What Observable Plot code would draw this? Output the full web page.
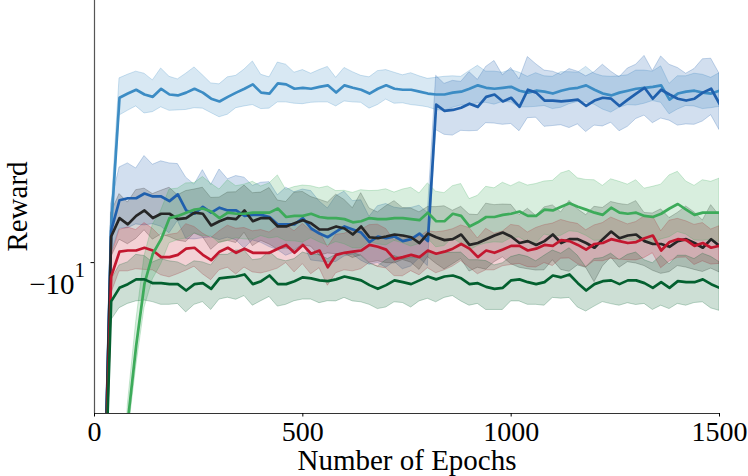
<!DOCTYPE html>
<html>
<head>
<meta charset="utf-8">
<script src="https://cdn.jsdelivr.net/npm/d3@7"></script>
<script src="https://cdn.jsdelivr.net/npm/@observablehq/plot@0.6"></script>
<style>
  body { margin: 0; background: #fff; }
  #chart svg { display: block; }
</style>
</head>
<body>
<div id="chart"></div>
<script>
// ---------- data ----------
const epochs = [0,20,40,60,80,100,120,140,160,180,200,220,240,260,280,300,320,340,360,380,
  400,420,440,460,480,500,520,540,560,580,600,620,640,660,680,700,720,740,760,780,
  800,820,840,860,880,900,920,940,960,980,1000,1020,1040,1060,1080,1100,1120,1140,1160,1180,
  1200,1220,1240,1260,1280,1300,1320,1340,1360,1380,1400,1420,1440,1460,1480,1500];

const xTicks = [0, 500, 1000, 1500];
const yTicks = [-10];
const yTickText = "−10";
const yTickSup = "1";
const xLabel = "Number of Epochs";
const yLabel = "Reward";

// light blue
const lbMean = [-40,-40,-8.5,-4.69,-4.60,-4.52,-4.62,-4.67,-4.50,-4.62,
  -4.64,-4.58,-4.50,-4.58,-4.71,-4.77,-4.67,-4.58,-4.50,-4.41,
  -4.58,-4.60,-4.39,-4.41,-4.50,-4.48,-4.50,-4.46,-4.43,-4.58,
  -4.43,-4.48,-4.52,-4.60,-4.50,-4.43,-4.50,-4.52,-4.52,-4.56,
  -4.60,-4.62,-4.62,-4.58,-4.56,-4.50,-4.43,-4.48,-4.50,-4.48,
  -4.46,-4.54,-4.58,-4.54,-4.56,-4.60,-4.54,-4.50,-4.48,-4.43,
  -4.52,-4.60,-4.64,-4.58,-4.54,-4.50,-4.48,-4.46,-4.43,-4.73,
  -4.60,-4.56,-4.54,-4.58,-4.60,-4.54];
const lbStd = [0.30,0.30,0.45,0.40,0.38,0.36,0.42,0.34,0.40,0.36,
  0.33,0.38,0.42,0.35,0.32,0.36,0.40,0.34,0.38,0.44,
  0.36,0.33,0.40,0.38,0.32,0.35,0.30,0.33,0.36,0.30,
  0.34,0.31,0.28,0.33,0.35,0.30,0.32,0.29,0.33,0.31,
  0.30,0.34,0.36,0.33,0.30,0.35,0.38,0.32,0.34,0.30,
  0.33,0.36,0.32,0.35,0.31,0.34,0.37,0.33,0.30,0.36,
  0.32,0.35,0.38,0.33,0.31,0.36,0.34,0.30,0.37,0.33,
  0.35,0.31,0.34,0.36,0.32,0.35];

// dark blue
const dbMean = [-40,-40,-8.63,-7.51,-7.44,-7.44,-7.28,-7.38,-7.38,-7.54,
  -7.31,-7.87,-7.99,-7.74,-7.95,-7.77,-7.87,-7.87,-8.07,-8.03,
  -8.03,-8.11,-8.39,-8.39,-8.39,-8.15,-8.55,-8.75,-8.90,-8.67,
  -8.47,-8.59,-8.71,-9.10,-8.87,-8.94,-8.87,-9.06,-8.98,-8.75,
  -9.06,-4.84,-4.98,-4.96,-4.91,-4.82,-4.89,-4.67,-4.62,-4.77,
  -4.69,-4.89,-4.52,-4.58,-4.75,-4.75,-4.77,-4.75,-4.73,-4.87,
  -4.75,-4.69,-4.71,-4.87,-4.73,-4.60,-4.48,-4.71,-4.52,-4.62,
  -4.71,-4.75,-4.71,-4.58,-4.50,-4.82];
const dbStd = [0.9,0.9,1.0,1.05,1.1,0.95,1.15,1.0,1.1,1.2,
  0.95,1.1,1.0,1.2,0.95,1.25,1.05,1.15,1.3,1.0,
  1.1,1.2,1.05,1.3,1.15,1.0,1.35,1.2,1.1,1.3,
  1.25,1.05,1.2,1.0,1.15,1.3,1.1,1.25,1.2,1.05,
  1.1,0.60,0.58,0.62,0.55,0.65,0.57,0.60,0.66,0.54,
  0.60,0.58,0.63,0.56,0.61,0.59,0.55,0.64,0.57,0.62,
  0.58,0.66,0.55,0.60,0.63,0.57,0.61,0.56,0.64,0.59,
  0.62,0.55,0.60,0.65,0.58,0.62];

// black
const bkMean = [-40,-40,-8.87,-8.15,-8.39,-8.07,-7.87,-8.15,-7.99,-7.99,
  -8.19,-8.15,-7.95,-7.99,-8.43,-8.27,-8.15,-8.19,-7.87,-8.27,
  -8.15,-8.15,-8.47,-8.47,-8.35,-8.23,-8.35,-8.59,-8.59,-8.47,
  -8.55,-8.79,-8.47,-8.90,-8.94,-8.87,-8.79,-8.83,-8.90,-9.14,
  -8.75,-8.90,-9.02,-8.98,-8.79,-9.22,-9.14,-8.98,-8.83,-8.71,
  -8.87,-9.14,-9.06,-9.22,-9.06,-8.79,-9.14,-8.98,-8.98,-9.14,
  -9.34,-8.98,-8.67,-8.94,-8.83,-8.79,-9.06,-9.18,-9.18,-9.30,
  -9.06,-8.98,-9.14,-9.34,-8.98,-9.26];
const bkStd = [0.8,0.8,0.9,0.85,0.8,0.9,0.75,0.85,0.8,0.9,
  0.85,0.95,0.8,0.9,1.0,0.85,0.9,0.95,0.85,1.0,
  0.9,1.05,0.95,0.9,1.1,1.0,0.95,1.1,1.0,1.15,
  1.05,1.0,1.2,1.1,1.0,1.15,1.25,1.05,1.1,1.2,
  1.0,1.15,1.3,1.1,1.05,1.2,1.1,1.35,1.15,1.05,
  1.2,1.1,1.25,1.15,1.3,1.1,1.2,1.45,1.15,1.1,
  1.6,1.2,1.1,1.3,1.15,1.25,1.1,1.2,1.35,1.15,
  1.1,1.25,1.2,1.1,1.3,1.2];

// red
const rdMean = [-40,-40,-10.66,-9.51,-9.46,-9.46,-9.34,-9.46,-9.75,-9.75,
  -9.65,-9.38,-9.34,-9.65,-9.89,-9.51,-9.34,-9.56,-9.38,-9.56,
  -9.56,-9.56,-9.38,-9.22,-9.56,-9.22,-9.60,-9.46,-10.22,-9.65,
  -9.56,-9.51,-9.46,-9.22,-9.30,-9.42,-9.84,-9.75,-9.65,-9.75,
  -9.46,-9.60,-9.51,-9.38,-9.18,-9.38,-9.75,-9.46,-9.56,-9.42,
  -9.26,-9.26,-9.46,-9.38,-9.22,-9.26,-9.02,-9.06,-9.22,-9.42,
  -9.18,-9.14,-8.98,-9.06,-9.14,-9.10,-8.94,-8.83,-9.46,-9.10,
  -8.98,-9.02,-9.26,-9.14,-9.34,-9.26];
const rdStd = [0.8,0.8,0.9,0.9,0.95,0.85,1.0,0.9,0.85,0.95,
  0.9,1.0,0.85,0.9,0.95,0.85,0.9,1.0,0.85,0.9,
  0.95,0.85,0.9,0.8,0.9,0.85,0.95,0.8,0.9,0.85,
  0.8,0.9,0.85,0.8,0.9,0.85,0.8,0.9,0.75,0.85,
  0.8,0.9,0.85,0.8,0.75,0.85,0.8,0.9,0.8,0.75,
  0.85,0.8,0.75,0.85,0.8,0.9,0.8,0.75,0.85,0.8,
  0.75,0.8,0.85,0.8,0.75,0.8,0.85,0.75,0.8,0.85,
  0.8,0.75,0.85,0.8,0.75,0.8];

// light green
const lgMean = [-40,-40,-40,-40,-20.7,-14.65,-11.01,-9.60,-8.98,-8.15,
  -8.07,-7.95,-7.84,-7.80,-7.91,-8.15,-7.95,-7.99,-7.99,-7.95,
  -7.95,-7.95,-7.80,-8.11,-8.07,-8.07,-7.99,-8.11,-8.15,-8.15,
  -8.19,-8.31,-8.27,-8.15,-8.19,-8.19,-8.15,-8.15,-8.19,-8.23,
  -7.95,-8.27,-8.27,-7.99,-8.07,-8.47,-8.31,-8.11,-8.11,-8.03,
  -7.99,-7.91,-8.07,-8.07,-7.84,-7.87,-7.74,-7.61,-7.74,-7.84,
  -7.95,-8.03,-7.77,-7.95,-7.99,-7.95,-8.07,-8.11,-7.99,-7.80,
  -7.64,-7.84,-8.03,-7.95,-7.95,-7.95];
const lgStd = [0.5,0.5,0.5,0.5,1.5,1.5,1.3,1.2,1.1,1.0,
  0.95,1.0,0.9,1.05,0.95,1.0,1.1,0.95,1.0,1.05,
  0.9,1.0,1.1,0.95,1.0,1.05,0.95,1.0,1.1,0.95,
  1.0,1.05,1.1,0.95,1.0,1.05,0.9,1.0,1.1,0.95,
  1.0,1.05,1.0,0.95,1.1,1.0,0.95,1.05,1.0,1.1,
  0.95,1.0,1.05,1.1,0.95,1.0,1.1,1.05,0.95,1.0,
  1.1,1.0,0.95,1.05,1.0,1.1,0.95,1.05,1.0,1.1,
  1.05,0.95,1.0,1.1,1.05,1.15];

// dark green
const dgMean = [-40,-40,-11.95,-11.23,-11.04,-10.80,-10.80,-10.99,-10.99,-11.04,
  -11.04,-11.37,-11.04,-10.99,-11.28,-10.75,-10.70,-10.66,-10.56,-11.04,
  -10.89,-10.61,-11.04,-11.04,-10.89,-10.70,-10.75,-10.85,-10.89,-10.80,
  -10.66,-10.75,-10.85,-11.09,-11.28,-11.09,-10.85,-10.94,-11.04,-10.85,
  -10.66,-10.80,-10.66,-10.61,-10.75,-11.04,-10.99,-11.18,-11.28,-11.23,
  -10.85,-10.80,-10.94,-11.04,-10.94,-10.61,-10.70,-10.56,-10.99,-11.37,
  -11.04,-10.89,-10.85,-11.04,-10.85,-10.85,-10.99,-11.23,-10.94,-11.23,
  -10.89,-10.94,-10.94,-10.80,-11.04,-11.23];
const dgStd = [1.0,1.0,1.1,1.1,1.05,1.15,1.1,1.0,1.15,1.1,
  1.05,1.2,1.1,1.0,1.15,1.1,1.05,1.2,1.1,1.15,
  1.05,1.1,1.2,1.1,1.05,1.15,1.1,1.2,1.05,1.15,
  1.1,1.2,1.15,1.05,1.1,1.2,1.15,1.1,1.25,1.1,
  1.15,1.2,1.1,1.05,1.2,1.15,1.1,1.25,1.15,1.2,
  1.1,1.15,1.2,1.1,1.25,1.15,1.1,1.2,1.3,1.15,
  1.2,1.1,1.25,1.15,1.2,1.3,1.1,1.2,1.25,1.15,
  1.2,1.25,1.1,1.2,1.3,1.25];

// ---------- build ----------
function rows(mean, std) {
  return epochs.map((e, i) => ({epoch: e, mean: mean[i], lo: mean[i] - std[i], hi: mean[i] + std[i]}));
}
const seriesList = [
  {data: rows(lbMean, lbStd), color: "#3c8cc4"},
  {data: rows(dbMean, dbStd), color: "#2060ad"},
  {data: rows(bkMean, bkStd), color: "#262626"},
  {data: rows(rdMean, rdStd), color: "#c3172f"},
  {data: rows(lgMean, lgStd), color: "#3dab5a"},
  {data: rows(dgMean, dgStd), color: "#03602f"}
];

const areas = seriesList.map(s => Plot.areaY(s.data, {
  x: "epoch", y1: "lo", y2: "hi", fill: s.color, fillOpacity: 0.2,
  stroke: s.color, strokeOpacity: 0.25, strokeWidth: 1, clip: true
}));
const lines = seriesList.map(s => Plot.lineY(s.data, {
  x: "epoch", y: "mean", stroke: s.color, strokeWidth: 2.7, clip: true
}));

const chart = Plot.plot({
  width: 748,
  height: 476,
  marginLeft: 94,
  marginRight: 29,
  marginTop: 0,
  marginBottom: 63,
  style: {fontFamily: "'Liberation Serif', 'Times New Roman', serif", background: "#fff", color: "#000"},
  x: {domain: [0, 1500]},
  y: {type: "log", domain: [-20, -3]},
  marks: [
    ...areas,
    ...lines,
    Plot.ruleX([0], {stroke: "#555", strokeWidth: 1.2}),
    Plot.ruleY([-20], {stroke: "#333", strokeWidth: 1.2}),
    Plot.axisX({ticks: xTicks, tickSize: 3.5, tickPadding: 4, fontSize: 28, label: null, tickFormat: d => String(d)}),
    Plot.axisY({ticks: yTicks, tickSize: 3.5, tickPadding: 6, fontSize: 29, label: null, tickFormat: () => yTickText}),
    Plot.text([xLabel], {text: d => d, frameAnchor: "bottom", lineAnchor: "top", dy: 35.5, fontSize: 29, fill: "#000"}),
    Plot.text([yLabel], {text: d => d, frameAnchor: "left", rotate: -90, fontSize: 29, fill: "#000"})
  ]
});
document.getElementById("chart").appendChild(chart);

// superscript on the y tick label
const yt = chart.querySelector('g[aria-label="y-axis tick label"] text');
if (yt) {
  yt.setAttribute("dy", "22");
  const sup = document.createElementNS("http://www.w3.org/2000/svg", "tspan");
  sup.setAttribute("font-size", "21");
  sup.setAttribute("dy", "-17");
  sup.textContent = yTickSup;
  yt.appendChild(sup);
}

// place the rotated y label, centred on the plot frame
const frameMid = (0 + (476 - 63)) / 2;
chart.querySelectorAll("text").forEach(t => {
  if (t.textContent === yLabel) {
    const g = t.parentNode;
    if (g && g.tagName === "g") g.removeAttribute("transform");
    t.removeAttribute("x");
    t.removeAttribute("y");
    t.setAttribute("dy", "0");
    t.setAttribute("text-anchor", "middle");
    t.setAttribute("transform", `translate(26.5,${frameMid}) rotate(-90)`);
  }
});
</script>
</body>
</html>
